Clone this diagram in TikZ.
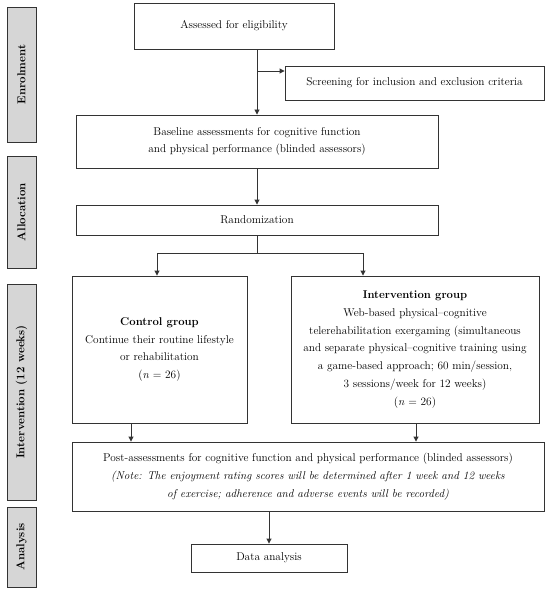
\documentclass[tikz,border=0pt]{standalone}
\usetikzlibrary{arrows.meta}
\definecolor{linec}{HTML}{333333}
\definecolor{sidefill}{HTML}{D6D6D6}
\begin{document}
\begin{tikzpicture}[x=1pt,y=-1pt,
  box/.style={draw=linec, line width=0.9pt, rectangle, align=center, inner sep=2pt,
    font=\fontsize{11.3}{17.7}\selectfont},
  side/.style={draw=linec, line width=0.9pt, fill=sidefill, rotate=90, align=center,
    font=\fontsize{11.5}{12}\selectfont\bfseries, minimum height=29pt, inner sep=0pt},
  arr/.style={draw=linec, line width=0.9pt, -{Triangle[length=5pt,width=5pt]}},
  ln/.style={draw=linec, line width=0.9pt}]
\useasboundingbox (0,0) rectangle (550,591);
% side labels
\node[side, minimum width=135pt] (s1) at (21.5,74.5) {Enrolment};
\node[side, minimum width=112pt] (s2) at (21.5,212) {Allocation};
\node[side, minimum width=216pt] (s3) at (21.5,392) {Intervention (12 weeks)};
\node[side, minimum width=80pt] (s4) at (21.5,547) {Analysis};
% boxes
\node[box, minimum width=200pt, minimum height=46pt] (a) at (234,26) {Assessed for eligibility};
\node[box, minimum width=259pt, minimum height=34pt] (scr) at (414.5,83) {Screening for inclusion and exclusion criteria};
\node[box, minimum width=362pt, minimum height=53pt] (base) at (257,141.5) {Baseline assessments for cognitive function\\and physical performance (blinded assessors)};
\node[box, minimum width=362pt, minimum height=30pt] (rand) at (257,220) {Randomization};
\node[box, minimum width=175pt, minimum height=147pt] (ctrl) at (159.5,349.5) {\textbf{Control group}\\Continue their routine lifestyle\\or rehabilitation\\(\textit{n} = 26)};
\node[box, minimum width=248pt, minimum height=147pt] (intv) at (415,349.5) {\textbf{Intervention group}\\Web-based physical--cognitive\\telerehabilitation exergaming (simultaneous\\and separate physical--cognitive training using\\a game-based approach; 60 min/session,\\3 sessions/week for 12 weeks)\\(\textit{n} = 26)};
\node[box, minimum width=472pt, minimum height=69pt] (post) at (308,476.5) {Post-assessments for cognitive function and physical performance (blinded assessors)\\\textit{(Note: The enjoyment rating scores will be determined after 1 week and 12 weeks}\\\textit{of exercise; adherence and adverse events will be recorded)}};
\node[box, minimum width=156pt, minimum height=28pt] (data) at (269,558) {Data analysis};
% connectors
\coordinate (b1) at (257,71);
\draw[arr] (base.north |- a.south) -- (base.north);
\draw[arr] (b1) -- (b1 -| scr.west);
\draw[arr] (rand.north |- base.south) -- (rand.north);
\coordinate (sp) at (257,253);
\coordinate (sl) at (157,253);
\coordinate (sr) at (363,253);
\draw[ln] (rand.south) -- (sp);
\draw[ln] (sl) -- (sr);
\draw[arr] (sl) -- (sl |- ctrl.north);
\draw[arr] (sr) -- (sr |- intv.north);
\coordinate (c1) at (131,423);
\coordinate (i1) at (416,423);
\draw[arr] (c1 |- ctrl.south) -- (c1 |- post.north);
\draw[arr] (i1 |- intv.south) -- (i1 |- post.north);
\draw[arr] (data.north |- post.south) -- (data.north);
\end{tikzpicture}
\end{document}
